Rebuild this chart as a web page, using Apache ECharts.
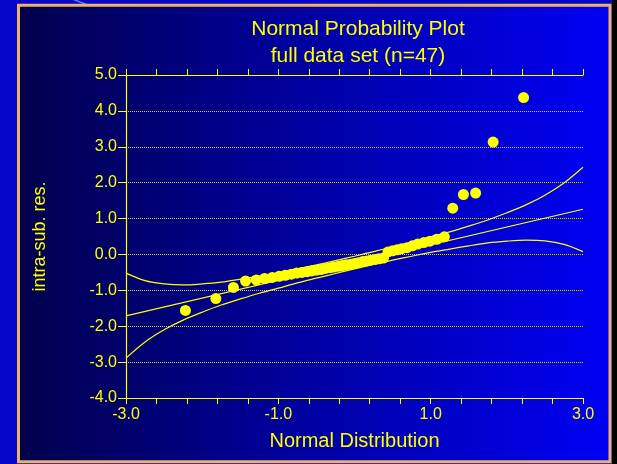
<!DOCTYPE html>
<html>
<head>
<meta charset="utf-8">
<script src="https://cdn.jsdelivr.net/npm/echarts@6/dist/echarts.min.js"></script>
<style>
  html, body { margin: 0; padding: 0; background: #0606c8; }
  #chart { width: 617px; height: 464px; }
</style>
</head>
<body>
<div id="chart"></div>
<script>
// Expected normal scores (x) and ordered intra-subject residuals (y), n = 47
const normalScores = [
  -2.22, -1.82, -1.59, -1.43, -1.29, -1.18, -1.08, -0.99, -0.91, -0.83,
  -0.76, -0.69, -0.62, -0.56, -0.50, -0.44, -0.38, -0.32, -0.27, -0.21,
  -0.16, -0.11, -0.05, 0.00, 0.05, 0.11, 0.16, 0.21, 0.27, 0.32,
  0.38, 0.44, 0.50, 0.56, 0.62, 0.69, 0.76, 0.83, 0.91, 0.99,
  1.08, 1.18, 1.29, 1.43, 1.59, 1.82, 2.22
];
const residuals = [
  -1.56, -1.23, -0.92, -0.74, -0.71, -0.67, -0.64, -0.61, -0.58, -0.55,
  -0.52, -0.50, -0.48, -0.46, -0.44, -0.42, -0.39, -0.37, -0.35, -0.33,
  -0.31, -0.29, -0.27, -0.25, -0.23, -0.20, -0.18, -0.16, -0.14, -0.12,
  -0.10, 0.07, 0.10, 0.13, 0.16, 0.19, 0.24, 0.29, 0.33, 0.37,
  0.42, 0.49, 1.29, 1.67, 1.71, 3.13, 4.37
];

// Confidence envelope around the fitted line
const bandX = [
  -3, -2.75, -2.5, -2.25, -2, -1.75, -1.5, -1.25, -1, -0.75, -0.5, -0.25, 0,
  0.25, 0.5, 0.75, 1, 1.25, 1.5, 1.75, 2, 2.25, 2.5, 2.75, 3
];
const bandUpper = [
  -0.52, -0.73, -0.82, -0.85, -0.82, -0.77, -0.69, -0.60, -0.51, -0.40, -0.29, -0.17, -0.05,
  0.08, 0.21, 0.34, 0.49, 0.63, 0.79, 0.96, 1.16, 1.38, 1.65, 1.99, 2.43
];
const bandLower = [
  -2.89, -2.44, -2.10, -1.83, -1.61, -1.41, -1.24, -1.08, -0.94, -0.79, -0.66, -0.53, -0.40,
  -0.28, -0.16, -0.05, 0.06, 0.15, 0.24, 0.32, 0.37, 0.40, 0.38, 0.28, 0.08
];

// Fitted reference line
const fitX = [-3, 3];
const fitY = [-1.71, 1.26];

// Labelled x ticks and y range
const xLabelValues = [-3, -1, 1, 3];
const yMin = -4, yMax = 5, yStep = 1;

const YELLOW = '#ffff00';
const FONT = 'Liberation Sans, Arial, sans-serif';

const zip = (xs, ys) => xs.map((x, i) => [x, ys[i]]);

const chart = echarts.init(document.getElementById('chart'), null, { renderer: 'canvas' });

// Tick axes run on x + 3 so the tick sequence starts from zero
const tickAxisBase = {
  type: 'value',
  min: 0,
  max: 6,
  interval: 0.4,
  gridIndex: 0,
  axisLine: { show: true, onZero: false, lineStyle: { color: YELLOW, width: 1.2 } },
  axisTick: { show: true, inside: false, length: 6, lineStyle: { color: YELLOW, width: 1 } },
  splitLine: { show: false }
};

const lineSeries = (data, name) => ({
  name: name,
  type: 'line',
  data: data,
  smooth: 0.3,
  showSymbol: false,
  symbol: 'none',
  silent: true,
  lineStyle: { color: YELLOW, width: 1.2 },
  z: 2
});

chart.setOption({
  backgroundColor: '#0606c8',
  animation: false,
  grid: { left: 126, right: 34, top: 75, bottom: 66, containLabel: false },
  xAxis: [
    {
      type: 'value', min: -3, max: 3, show: false, gridIndex: 0
    },
    Object.assign({}, tickAxisBase, {
      position: 'bottom',
      name: 'Normal Distribution',
      nameLocation: 'middle',
      nameGap: 33,
      nameTextStyle: { color: YELLOW, fontSize: 20, fontFamily: FONT },
      axisLabel: {
        show: true,
        color: YELLOW,
        fontSize: 16,
        fontFamily: FONT,
        margin: 9,
        showMinLabel: true,
        showMaxLabel: true,
        formatter: function (v) {
          const x = v - 3;
          const hit = xLabelValues.find(t => Math.abs(t - x) < 1e-6);
          return hit === undefined ? '' : hit.toFixed(1);
        }
      }
    }),
    Object.assign({}, tickAxisBase, {
      position: 'top',
      axisLabel: { show: false }
    })
  ],
  yAxis: {
    type: 'value',
    min: yMin,
    max: yMax,
    interval: yStep,
    name: 'intra-sub. res.',
    nameLocation: 'middle',
    nameGap: 77,
    nameTextStyle: { color: YELLOW, fontSize: 18, fontFamily: FONT },
    axisLine: { show: true, onZero: false, lineStyle: { color: YELLOW, width: 1.2 } },
    axisTick: { show: true, inside: false, length: 8, lineStyle: { color: YELLOW, width: 1 } },
    axisLabel: {
      color: YELLOW, fontSize: 16, fontFamily: FONT, margin: 9,
      formatter: v => v.toFixed(1)
    },
    splitLine: { show: true, lineStyle: { color: '#d0c890', type: 'dotted', width: 1 } }
  },
  graphic: {
    elements: [
      {
        type: 'rect', z: -20, silent: true,
        shape: { x: 612, y: 0, width: 5, height: 464 },
        style: { fill: '#000000' }
      },
      {
        type: 'line', z: -20, silent: true,
        shape: { x1: 72, y1: -1, x2: 88, y2: 5 },
        style: { stroke: '#4f80ff', lineWidth: 1.5 }
      },
      {
        type: 'rect', z: -10, silent: true,
        shape: { x: 18.5, y: 5.3, width: 591.5, height: 456.5 },
        style: {
          fill: new echarts.graphic.LinearGradient(0, 0, 1, 0, [
            { offset: 0, color: '#00004c' },
            { offset: 0.5, color: '#0000a4' },
            { offset: 1, color: '#0000f4' }
          ]),
          stroke: '#f0b262',
          lineWidth: 3
        }
      },
      {
        type: 'text', z: 10, silent: true,
        x: 358, y: 29,
        style: {
          text: 'Normal Probability Plot',
          fill: YELLOW, font: '21px ' + FONT,
          textAlign: 'center', textVerticalAlign: 'middle'
        }
      },
      {
        type: 'text', z: 10, silent: true,
        x: 358, y: 56,
        style: {
          text: 'full data set (n=47)',
          fill: YELLOW, font: '21px ' + FONT,
          textAlign: 'center', textVerticalAlign: 'middle'
        }
      }
    ]
  },
  series: [
    lineSeries(zip(bandX, bandUpper), 'upper'),
    lineSeries(zip(bandX, bandLower), 'lower'),
    lineSeries(zip(fitX, fitY), 'fit'),
    {
      name: 'residuals',
      type: 'scatter',
      data: zip(normalScores, residuals),
      symbol: 'circle',
      symbolSize: 11,
      itemStyle: { color: YELLOW, opacity: 1 },
      silent: true,
      z: 3
    }
  ]
});
</script>
</body>
</html>
